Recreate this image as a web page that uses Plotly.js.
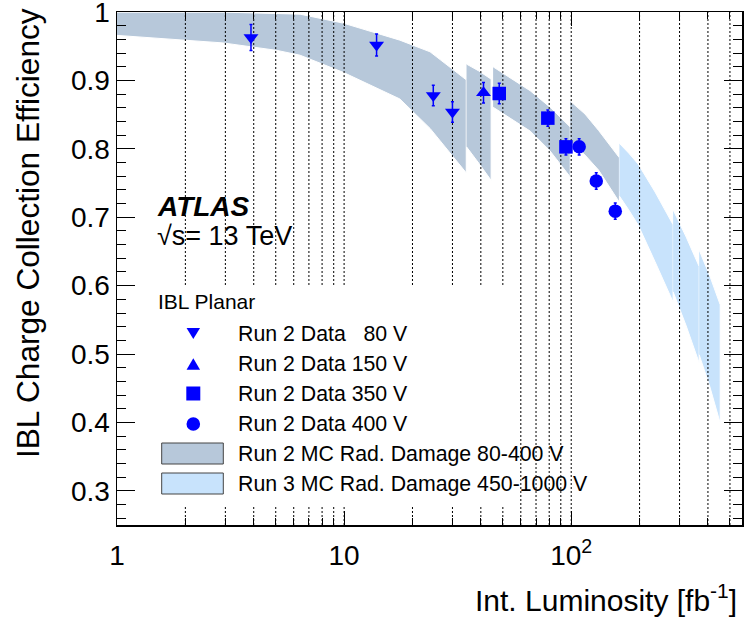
<!DOCTYPE html>
<html><head><meta charset="utf-8">
<script src="https://cdn.plot.ly/plotly-3.0.1.min.js"></script>
<style>html,body{margin:0;padding:0;background:#fff}#chart{width:745px;height:621px}</style>
</head><body><div id="chart"></div>
<script>
// ---- Data points (Run 2 data) ----
const lumi80 = [3.89, 13.9, 24.7, 30.0];
const cce80 = [0.963, 0.952, 0.878, 0.854];
const err80 = [0.019, 0.016, 0.015, 0.015];
const lumi150 = [41.1];
const cce150 = [0.882];
const err150 = [0.015];
const lumi350 = [48.2, 78.9, 94.8];
const cce350 = [0.881, 0.845, 0.803];
const err350 = [0.015, 0.012, 0.012];
const lumi400 = [108.4, 128.9, 156.3];
const cce400 = [0.803, 0.753, 0.709];
const err400 = [0.012, 0.012, 0.012];

// ---- Run 2 MC radiation damage band (segments) ----
const r2s1Lumi = [1, 2, 2.93, 5.07, 6.4, 9.9, 17.6, 23.9, 34.5];
const r2s1Hi = [1.0, 1.0, 1.0, 0.998, 0.997, 0.984, 0.959, 0.942, 0.901];
const r2s1Lo = [0.966, 0.959, 0.955, 0.944, 0.937, 0.912, 0.873, 0.830, 0.765];
const r2s2Lumi = [34.6, 39.2, 44.4];
const r2s2Hi = [0.924, 0.914, 0.902];
const r2s2Lo = [0.803, 0.779, 0.754];
const r2s3Lumi = [45.3, 54, 66, 80.7, 99];
const r2s3Hi = [0.920, 0.904, 0.885, 0.861, 0.832];
const r2s3Lo = [0.861, 0.845, 0.826, 0.797, 0.759];
const r2s4Lumi = [99, 115, 132, 163];
const r2s4Hi = [0.870, 0.851, 0.827, 0.787];
const r2s4Lo = [0.811, 0.791, 0.769, 0.722];

// ---- Run 3 MC radiation damage band (segments) ----
const r3s1Lumi = [163, 179, 197, 234, 281];
const r3s1Hi = [0.808, 0.794, 0.778, 0.737, 0.689];
const r3s1Lo = [0.731, 0.711, 0.689, 0.635, 0.576];
const r3s2Lumi = [281, 321, 366];
const r3s2Hi = [0.711, 0.671, 0.628];
const r3s2Lo = [0.591, 0.541, 0.487];
const r3s3Lumi = [366, 408, 453];
const r3s3Hi = [0.652, 0.614, 0.572];
const r3s3Lo = [0.499, 0.452, 0.399];

// ---- Axis ticks ----
const xMajorTicks = [1, 10, 100];
const xMajorLabels = ['1', '10', '10<sup>2</sup>'];
const xMinorTicks = [2,3,4,5,6,7,8,9,20,30,40,50,60,70,80,90,200,300,400,500];
const xGridTicks = [2,3,4,5,6,7,8,9,10,20,30,40,50,60,70,80,90,100,200,300,400,500];
const yTicks = [0.3,0.4,0.5,0.6,0.7,0.8,0.9,1.0];
const yLabels = ['0.3','0.4','0.5','0.6','0.7','0.8','0.9','1'];

const legendLabels = ['Run 2 Data\u00a0\u00a0\u00a080 V','Run 2 Data 150 V','Run 2 Data 350 V','Run 2 Data 400 V',
  'Run 2 MC Rad. Damage 80-400 V','Run 3 MC Rad. Damage 450-1000 V'];

const RUN2 = '#b7c8da', RUN3 = '#c8e3fc', BLUE = '#0000ff';
const FONT = 'Liberation Sans, Arial, Helvetica, sans-serif';

// plot box in pixels
const L = 117, R = 742, T = 12, B = 525;
const PX = p => (p - L) / (R - L);
const PY = p => (B - p) / (B - T);

function band(xs, hi, lo, color) {
  return {
    type: 'scatter', mode: 'lines', fill: 'toself', fillcolor: color,
    x: xs.concat(xs.slice().reverse()),
    y: hi.concat(lo.slice().reverse()),
    line: {color: '#ffffff', width: 1}, hoverinfo: 'skip', showlegend: false
  };
}

const traces = [
  band(r2s1Lumi, r2s1Hi, r2s1Lo, RUN2),
  band(r2s2Lumi, r2s2Hi, r2s2Lo, RUN2),
  band(r2s3Lumi, r2s3Hi, r2s3Lo, RUN2),
  band(r2s4Lumi, r2s4Hi, r2s4Lo, RUN2),
  band(r3s1Lumi, r3s1Hi, r3s1Lo, RUN3),
  band(r3s2Lumi, r3s2Hi, r3s2Lo, RUN3),
  band(r3s3Lumi, r3s3Hi, r3s3Lo, RUN3)
];

// dotted grid drawn above the bands
const gx = [], gy = [];
xGridTicks.forEach(v => { gx.push(v, v, null); gy.push(0.25, 1.0, null); });
traces.push({type: 'scatter', mode: 'lines', x: gx, y: gy,
  line: {color: '#000', width: 1, dash: '2px,2px'}, hoverinfo: 'skip', showlegend: false});

function pts(x, y, e, sym, size) {
  return {type: 'scatter', mode: 'markers', x: x, y: y,
    marker: {symbol: sym, size: size, color: BLUE, line: {width: 0}},
    error_y: {type: 'data', array: e, visible: true, color: BLUE, thickness: 1.5, width: 1.5},
    showlegend: false};
}
traces.push(pts(lumi80, cce80, err80, 'triangle-down', 13));
traces.push(pts(lumi150, cce150, err150, 'triangle-up', 13));
traces.push(pts(lumi350, cce350, err350, 'square', 13.5));
traces.push(pts(lumi400, cce400, err400, 'circle', 13.5));

// ---- legend drawn by hand ----
const shapes = [];
shapes.push({type: 'rect', xref: 'paper', yref: 'paper', x0: PX(145), x1: PX(512), y0: PY(506), y1: PY(286),
  fillcolor: '#fff', line: {width: 0}, layer: 'above'});
const symX = 193.3;
const rowY = [333.5, 364, 393.5, 424, 453.5, 483.5];
function tri(cx, cy, w, h, down) {
  const a = down ? cy - h/2 : cy + h/2, b = down ? cy + h/2 : cy - h/2;
  return {type: 'path', xref: 'paper', yref: 'paper', layer: 'above',
    path: `M${PX(cx - w/2)},${PY(a)} L${PX(cx + w/2)},${PY(a)} L${PX(cx)},${PY(b)} Z`,
    fillcolor: BLUE, line: {width: 0}};
}
shapes.push(tri(symX, rowY[0], 13.5, 11, true));
shapes.push(tri(symX, rowY[1], 13.5, 11.5, false));
shapes.push({type: 'rect', xref: 'paper', yref: 'paper', layer: 'above',
  x0: PX(symX - 7), x1: PX(symX + 7), y0: PY(rowY[2] + 7), y1: PY(rowY[2] - 7), fillcolor: BLUE, line: {width: 0}});
shapes.push({type: 'circle', xref: 'paper', yref: 'paper', layer: 'above',
  x0: PX(symX - 6.8), x1: PX(symX + 6.8), y0: PY(rowY[3] + 6.8), y1: PY(rowY[3] - 6.8), fillcolor: BLUE, line: {width: 0}});
[[rowY[4], RUN2], [rowY[5], RUN3]].forEach(([cy, c]) => {
  shapes.push({type: 'rect', xref: 'paper', yref: 'paper', layer: 'above',
    x0: PX(161.7), x1: PX(223.3), y0: PY(cy + 10.5), y1: PY(cy - 10.5), fillcolor: c,
    line: {color: '#444', width: 1}});
});

const annotations = [];
annotations.push({xref: 'paper', yref: 'paper', x: PX(156), y: PY(301.5), xanchor: 'left', yanchor: 'middle',
  text: 'IBL Planar', showarrow: false, font: {family: FONT, size: 21, color: '#000'}});
legendLabels.forEach((t, i) => annotations.push({xref: 'paper', yref: 'paper', x: PX(236), y: PY(rowY[i]),
  xanchor: 'left', yanchor: 'middle', text: t, showarrow: false, font: {family: FONT, size: 21.3, color: '#000'}}));
annotations.push({xref: 'paper', yref: 'paper', x: PX(155), y: PY(206), xanchor: 'left', yanchor: 'middle',
  text: '<b><i>ATLAS</i></b>', showarrow: false, font: {family: FONT, size: 28, color: '#000'}});
annotations.push({xref: 'paper', yref: 'paper', x: PX(155), y: PY(236), xanchor: 'left', yanchor: 'middle',
  text: '\u221As= 13 TeV', showarrow: false, font: {family: FONT, size: 27, color: '#000'}});
annotations.push({xref: 'paper', yref: 'paper', x: PX(28), y: PY(6), xanchor: 'center', yanchor: 'top',
  textangle: -90, text: 'IBL Charge Collection Efficiency', showarrow: false, font: {family: FONT, size: 31.6, color: '#000'}});
annotations.push({xref: 'paper', yref: 'paper', x: PX(739), y: PY(598), xanchor: 'right', yanchor: 'middle',
  text: 'Int. Luminosity [fb<sup>-1</sup>]', showarrow: false, font: {family: FONT, size: 30, color: '#000'}});

const layout = {
  width: 745, height: 621,
  margin: {l: L, r: 745 - R, t: T, b: 621 - B, pad: 0},
  paper_bgcolor: '#fff', plot_bgcolor: '#fff',
  showlegend: false,
  font: {family: FONT, color: '#000'},
  xaxis: {type: 'log', range: [0, Math.log10(565)], showgrid: false, zeroline: false,
    showline: true, linecolor: '#000', linewidth: 1.5, mirror: 'ticks',
    ticks: 'inside', ticklen: 14, tickwidth: 1, tickcolor: '#000',
    tickmode: 'array', tickvals: xMajorTicks, ticktext: xMajorLabels, ticklabeloverflow: 'allow',
    ticklabelstandoff: 5,
    tickfont: {family: FONT, size: 28, color: '#000'},
    minor: {tickmode: 'array', tickvals: xMinorTicks, ticks: 'inside', ticklen: 7, tickcolor: '#000', showgrid: false}},
  yaxis: {range: [0.25, 1.0002], showgrid: false, zeroline: false,
    showline: true, linecolor: '#000', linewidth: 1.5, mirror: 'ticks',
    ticks: 'inside', ticklen: 18, tickwidth: 1, tickcolor: '#000',
    tickmode: 'array', tickvals: yTicks, ticktext: yLabels, ticklabeloverflow: 'allow',
    tickfont: {family: FONT, size: 28, color: '#000'},
    minor: {tickmode: 'linear', tick0: 0.3, dtick: 0.02, ticks: 'inside', ticklen: 9, tickcolor: '#000', showgrid: false}},
  shapes: shapes,
  annotations: annotations
};

Plotly.newPlot('chart', traces, layout, {displayModeBar: false, staticPlot: true});
</script>
</body></html>
